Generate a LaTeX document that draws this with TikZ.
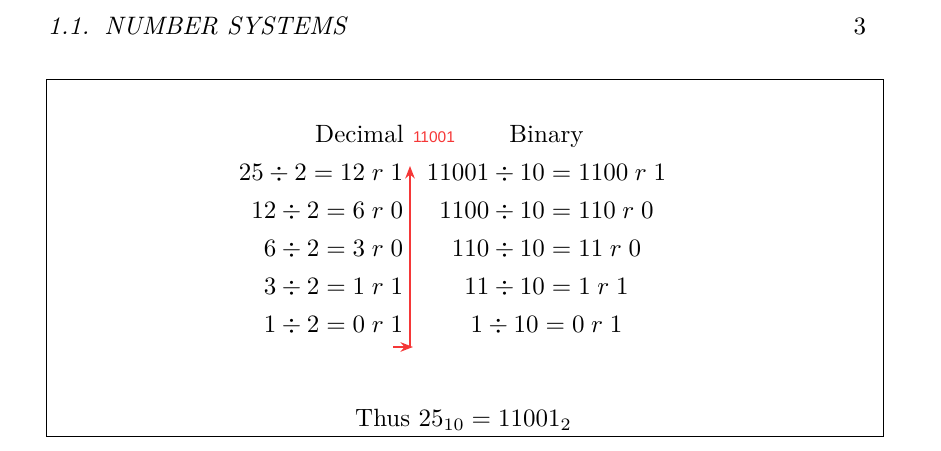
\documentclass[tikz,border=0pt]{standalone}
\usepackage{fontspec}
\newfontfamily\labelfont{Liberation Sans}
\usetikzlibrary{arrows.meta}
\definecolor{arrred}{RGB}{245,55,55}
\newcommand{\rsp}{\mskip 4.8mu}
\tikzset{
  txt/.style={inner sep=0pt, outer sep=0pt, anchor=base},
  lcol/.style={txt, anchor=base east},
  rcol/.style={txt, anchor=base},
  redarrow/.style={draw=arrred, line width=1pt, -{Stealth[length=5pt,width=3.8pt]}},
}
\begin{document}
\begin{tikzpicture}[x=0.4pt,y=-0.4pt]
\useasboundingbox (0,0) rectangle (941,451);
% header
\node[txt, anchor=base west] (hdr) at (48,34.5) {\itshape\fontsize{10.1}{12}\selectfont 1.1.\hspace{6pt}NUMBER SYSTEMS};
\node[txt, anchor=base east] (pg) at (866,34.5) {3};
% frame
\draw[line width=0.4pt] (46,80) rectangle (883,437);
% column heads
\node[txt] (dec) at (359.5,143) {Decimal};
\node[txt] (bin) at (546.5,143) {Binary};
\node[txt, anchor=base west, text=arrred] (res) at (413,143) {\labelfont\fontsize{6.2}{7}\selectfont 11001};
% left column
\node[lcol] (l1) at (403,181) {$25\div 2=12\rsp r\rsp 1$};
\node[lcol] (l2) at (403,219) {$12\div 2=6\rsp r\rsp 0$};
\node[lcol] (l3) at (403,257) {$6\div 2=3\rsp r\rsp 0$};
\node[lcol] (l4) at (403,295) {$3\div 2=1\rsp r\rsp 1$};
\node[lcol] (l5) at (403,333) {$1\div 2=0\rsp r\rsp 1$};
% right column
\node[rcol] (r1) at (546.5,181) {$11001\div 10=1100\rsp r\rsp 1$};
\node[rcol] (r2) at (546.5,219) {$1100\div 10=110\rsp r\rsp 0$};
\node[rcol] (r3) at (546.5,257) {$110\div 10=11\rsp r\rsp 0$};
\node[rcol] (r4) at (546.5,295) {$11\div 10=1\rsp r\rsp 1$};
\node[rcol] (r5) at (546.5,333) {$1\div 10=0\rsp r\rsp 1$};
% conclusion
\node[txt] (thus) at (463.5,427) {Thus $25_{10}=11001_2$};
% red arrows
\coordinate (abot) at (410,348);
\coordinate (atop) at (410,166);
\coordinate (hstart) at (393,347);
\coordinate (hend) at (413,347);
\draw[redarrow] (abot) -- (atop);
\draw[redarrow] (hstart) -- (hend);
\end{tikzpicture}
\end{document}
